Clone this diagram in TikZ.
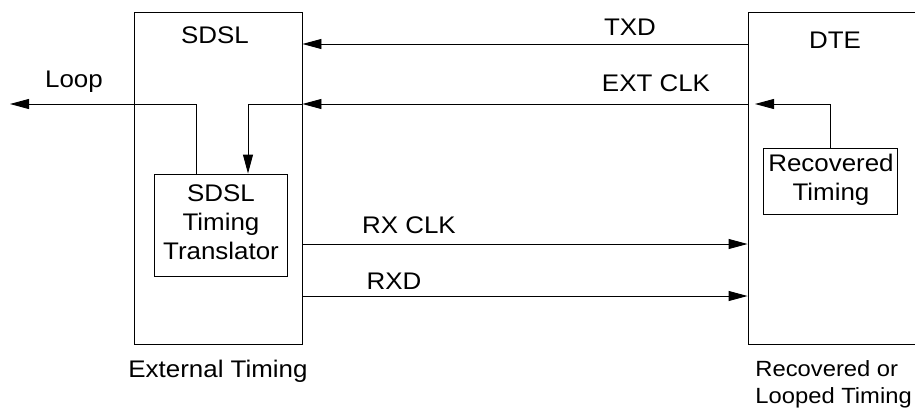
\documentclass[tikz,border=0pt]{standalone}
\usepackage{fontspec}
\setmainfont{Liberation Sans}[FakeStretch=1.08]
\usetikzlibrary{arrows.meta}
\begin{document}
\begin{tikzpicture}[x=1pt,y=-1pt,
  line width=0.9pt,
  box/.style={draw,line width=0.9pt,inner sep=0pt},
  lbl/.style={font=\fontsize{24}{29}\selectfont,inner sep=0pt,align=center},
  arr/.style={-{Triangle[length=19pt,width=10pt]}}]
\clip (0,0) rectangle (915,410);
% boxes
\node[box,minimum width=168pt,minimum height=332pt] (sdsl) at (218,178) {};
\node[box,minimum width=200pt,minimum height=332pt] (dte) at (848,178) {};
\node[box,minimum width=133pt,minimum height=102pt] (trans) at (220.5,225) {};
\node[box,minimum width=134pt,minimum height=66pt] (rec) at (830,181) {};
% texts
\node[lbl] (tsdsl) at (215,35) {SDSL};
\node[lbl] (tdte) at (835,40) {DTE};
\node[lbl] (ttrans) at (221,222) {SDSL\\Timing\\Translator};
\node[lbl] (trec) at (831,180) {Recovered\\Timing};
\node[lbl] (tloop) at (74,82) {Loop};
\node[lbl] (ttxd) at (630,27) {TXD};
\node[lbl] (text) at (656,83) {EXT CLK};
\node[lbl] (trx) at (409,225) {RX CLK};
\node[lbl] (trxd) at (394,281) {RXD};
\node[lbl] (text2) at (218,371) {External Timing};
\node[lbl,anchor=west,align=left,font=\fontsize{22}{27}\selectfont] (trecl) at (755,384) {Recovered or\\Looped Timing};
% coordinates
\coordinate (loopend) at (10,104);
\coordinate (dteclk) at (755,104);
% connectors
\draw[arr] (dte.west |- 0,44) -- (sdsl.east |- 0,44);
\draw[arr] (dte.west |- 0,104) -- (sdsl.east |- 0,104);
\draw[arr] (sdsl.east |- 0,104) -- (248,104) -- (trans.north -| 248,0);
\draw[arr] (trans.north -| 196,0) -- (196,104) -- (loopend);
\draw[arr] (rec.north) -- (rec.north |- dteclk) -- (dteclk);
\draw[arr] (sdsl.east |- 0,244) -- (dte.west |- 0,244);
\draw[arr] (sdsl.east |- 0,296) -- (dte.west |- 0,296);
\end{tikzpicture}
\end{document}
